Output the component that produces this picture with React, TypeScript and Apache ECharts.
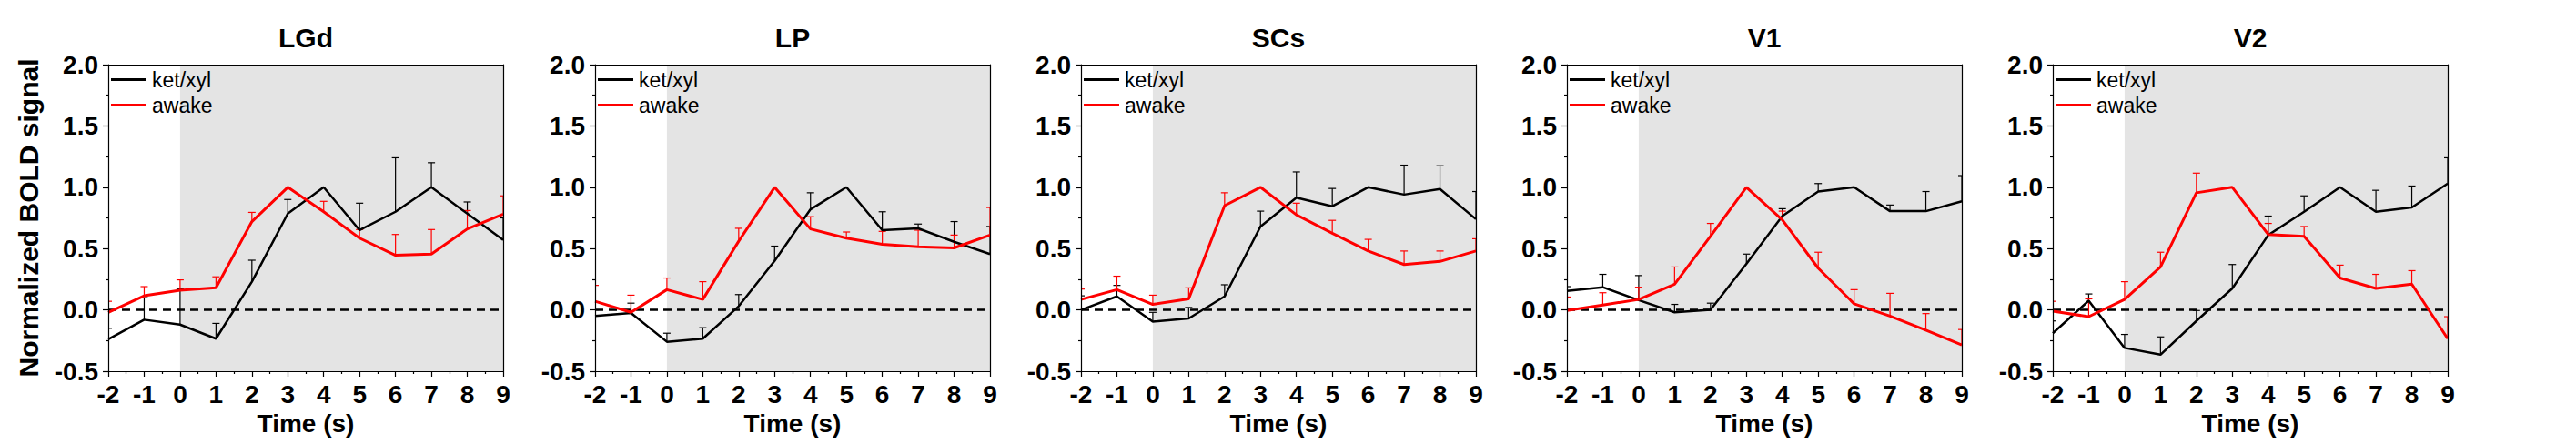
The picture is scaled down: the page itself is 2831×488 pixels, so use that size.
import React, { useEffect, useRef } from 'react';
import * as echarts from 'echarts';

// ---------------- data ----------------
const times = [-2, -1, 0, 1, 2, 3, 4, 5, 6, 7, 8, 9];
const regions = ['LGd', 'LP', 'SCs', 'V1', 'V2'];
const seriesNames = ['ket/xyl', 'awake'];

// mean curves and upper ends of the error bars (mean + SEM)
const ketLGd = [-0.24, -0.08, -0.12, -0.235, 0.23, 0.785, 1.0, 0.65, 0.8, 1.0, 0.785, 0.57];
const ketTopLGd = [-0.15, 0.1, 0.17, -0.11, 0.405, 0.9, 1.0, 0.87, 1.24, 1.2, 0.88, 0.75];
const awakeLGd = [-0.02, 0.115, 0.16, 0.18, 0.72, 1.0, 0.8, 0.585, 0.445, 0.455, 0.66, 0.78];
const awakeTopLGd = [0.07, 0.19, 0.245, 0.27, 0.795, 1.0, 0.885, 0.655, 0.615, 0.655, 0.81, 0.93];

const ketLP = [-0.05, -0.025, -0.26, -0.235, 0.03, 0.4, 0.82, 1.0, 0.65, 0.665, 0.555, 0.455];
const ketTopLP = [0.0, 0.055, -0.19, -0.145, 0.125, 0.52, 0.955, 1.0, 0.8, 0.7, 0.72, 0.68];
const awakeLP = [0.07, -0.02, 0.165, 0.085, 0.56, 1.0, 0.66, 0.585, 0.535, 0.515, 0.505, 0.61];
const awakeTopLP = [0.2, 0.12, 0.26, 0.23, 0.665, 1.0, 0.76, 0.635, 0.64, 0.65, 0.61, 0.835];

const ketSCs = [0.0, 0.11, -0.095, -0.07, 0.11, 0.68, 0.915, 0.845, 1.0, 0.94, 0.985, 0.74];
const ketTopSCs = [0.115, 0.2, -0.02, 0.02, 0.205, 0.805, 1.125, 0.99, 1.0, 1.18, 1.175, 0.965];
const awakeSCs = [0.085, 0.165, 0.045, 0.09, 0.85, 1.0, 0.775, 0.625, 0.48, 0.37, 0.395, 0.48];
const awakeTopSCs = [0.17, 0.275, 0.12, 0.18, 0.955, 1.0, 0.87, 0.73, 0.575, 0.48, 0.48, 0.58];

const ketV1 = [0.155, 0.185, 0.08, -0.02, 0.0, 0.375, 0.765, 0.965, 1.0, 0.805, 0.805, 0.885];
const ketTopV1 = [0.19, 0.29, 0.28, 0.045, 0.055, 0.455, 0.825, 1.03, 1.0, 0.855, 0.965, 1.095];
const awakeV1 = [-0.005, 0.04, 0.085, 0.21, 0.6, 1.0, 0.735, 0.34, 0.05, -0.05, -0.165, -0.285];
const awakeTopV1 = [0.105, 0.14, 0.185, 0.35, 0.705, 1.0, 0.805, 0.47, 0.165, 0.135, -0.03, -0.16];

const ketV2 = [-0.19, 0.075, -0.31, -0.365, -0.09, 0.175, 0.61, 0.8, 1.0, 0.8, 0.835, 1.03];
const ketTopV2 = [-0.09, 0.13, -0.2, -0.22, -0.005, 0.37, 0.765, 0.93, 1.0, 0.975, 1.01, 1.24];
const awakeV2 = [-0.01, -0.055, 0.085, 0.35, 0.955, 1.0, 0.615, 0.6, 0.26, 0.175, 0.21, -0.235];
const awakeTopV2 = [0.07, 0.09, 0.23, 0.47, 1.115, 1.0, 0.705, 0.68, 0.365, 0.29, 0.32, -0.055];

const ketMeans = [ketLGd, ketLP, ketSCs, ketV1, ketV2];
const ketTops = [ketTopLGd, ketTopLP, ketTopSCs, ketTopV1, ketTopV2];
const awakeMeans = [awakeLGd, awakeLP, awakeSCs, awakeV1, awakeV2];
const awakeTops = [awakeTopLGd, awakeTopLP, awakeTopSCs, awakeTopV1, awakeTopV2];

const stimStart = 0;
const stimEnd = 9;
const xTicks = { min: -2, max: 9, interval: 1 };
const yTicks = { min: -0.5, max: 2.0, interval: 0.5 };

// ---------------- layout / style ----------------
const FONT = '"Liberation Sans", Arial, Helvetica, sans-serif';
const GRID_LEFT = [119, 654, 1188, 1722, 2256];
const GRID_TOP = 71;
const GRID_W = 434;
const GRID_H = 337;
const BLACK = '#000000';
const RED = '#ff0000';
const SHADE = '#e4e4e4';

function errorRenderer(color: string) {
  return (params: any, api: any) => {
    const x = api.value(0);
    const y = api.value(1);
    const top = api.value(2);
    if (!(top > y)) return { type: 'group', children: [] };
    const p0 = api.coord([x, y]);
    const p1 = api.coord([x, top]);
    const style = { stroke: color, lineWidth: 1.2, fill: null };
    return {
      type: 'group',
      children: [
        { type: 'line', shape: { x1: p0[0], y1: p0[1], x2: p1[0], y2: p1[1] }, style },
        { type: 'line', shape: { x1: p1[0] - 4, y1: p1[1], x2: p1[0] + 4, y2: p1[1] }, style },
      ],
    };
  };
}

function buildOption() {
  const grid: any[] = [];
  const xAxis: any[] = [];
  const yAxis: any[] = [];
  const title: any[] = [];
  const legend: any[] = [];
  const series: any[] = [];

  const boldLabel = { fontSize: 28, fontWeight: 'bold', color: BLACK, fontFamily: FONT };
  const lineStyle = { color: BLACK, width: 1.2 };

  regions.forEach((region, i) => {
    grid.push({ left: GRID_LEFT[i], top: GRID_TOP, width: GRID_W, height: GRID_H, containLabel: false });
    title.push({
      text: region,
      left: GRID_LEFT[i] + GRID_W / 2,
      top: 26,
      textAlign: 'center',
      padding: 0,
      textStyle: { fontSize: 30, fontWeight: 'bold', color: BLACK, fontFamily: FONT },
    });
    legend.push({
      data: seriesNames,
      orient: 'vertical',
      left: GRID_LEFT[i] + 3,
      top: 76,
      padding: 0,
      itemGap: 5,
      itemWidth: 39,
      itemHeight: 3,
      icon: 'rect',
      selectedMode: false,
      textStyle: { fontSize: 23, color: BLACK, fontFamily: FONT, padding: [0, 0, 0, 1] },
    });
    xAxis.push({
      type: 'value',
      gridIndex: i,
      min: xTicks.min,
      max: xTicks.max,
      interval: xTicks.interval,
      z: 10,
      axisLine: { show: true, onZero: false, lineStyle },
      axisTick: { show: true, length: 6, lineStyle },
      minorTick: { show: true, splitNumber: 2, length: 3, lineStyle },
      splitLine: { show: false },
      minorSplitLine: { show: false },
      axisLabel: { ...boldLabel, margin: 11 },
      name: 'Time (s)',
      nameLocation: 'middle',
      nameGap: 40,
      nameTextStyle: { ...boldLabel },
    });
    yAxis.push({
      type: 'value',
      gridIndex: i,
      min: yTicks.min,
      max: yTicks.max,
      interval: yTicks.interval,
      z: 10,
      axisLine: { show: true, onZero: false, lineStyle },
      axisTick: { show: true, length: 6, lineStyle },
      minorTick: { show: true, splitNumber: 2, length: 3, lineStyle },
      splitLine: { show: false },
      minorSplitLine: { show: false },
      axisLabel: { ...boldLabel, margin: 11, formatter: (v: number) => v.toFixed(1) },
      name: i === 0 ? 'Normalized BOLD signal' : '',
      nameLocation: 'middle',
      nameGap: 73,
      nameTextStyle: { ...boldLabel, fontSize: 30 },
    });
  });

  // frame (top and right edges)
  regions.forEach((_, i) => {
    xAxis.push({
      type: 'value',
      gridIndex: i,
      position: 'top',
      min: xTicks.min,
      max: xTicks.max,
      z: 10,
      axisLine: { show: true, onZero: false, lineStyle },
      axisTick: { show: false },
      axisLabel: { show: false },
      splitLine: { show: false },
    });
    yAxis.push({
      type: 'value',
      gridIndex: i,
      position: 'right',
      min: yTicks.min,
      max: yTicks.max,
      z: 10,
      axisLine: { show: true, onZero: false, lineStyle },
      axisTick: { show: false },
      axisLabel: { show: false },
      splitLine: { show: false },
    });
  });

  regions.forEach((_, i) => {
    series.push({
      type: 'line',
      name: '_bg' + i,
      xAxisIndex: i,
      yAxisIndex: i,
      data: [],
      silent: true,
      z: 1,
      markArea: {
        silent: true,
        z: 1,
        itemStyle: { color: SHADE },
        data: [[{ xAxis: stimStart, yAxis: yTicks.min }, { xAxis: stimEnd, yAxis: yTicks.max }]],
      },
      markLine: {
        silent: true,
        z: 2,
        symbol: ['none', 'none'],
        label: { show: false },
        lineStyle: { color: BLACK, type: [9, 6], width: 2.5 },
        data: [{ yAxis: 0 }],
      },
    });
    series.push({
      type: 'custom',
      name: 'ket/xyl',
      xAxisIndex: i,
      yAxisIndex: i,
      z: 3,
      clip: true,
      silent: true,
      itemStyle: { color: BLACK },
      renderItem: errorRenderer(BLACK),
      encode: { x: 0, y: 1 },
      data: times.map((t, k) => [t, ketMeans[i][k], ketTops[i][k]]),
    });
    series.push({
      type: 'custom',
      name: 'awake',
      xAxisIndex: i,
      yAxisIndex: i,
      z: 3,
      clip: true,
      silent: true,
      itemStyle: { color: RED },
      renderItem: errorRenderer(RED),
      encode: { x: 0, y: 1 },
      data: times.map((t, k) => [t, awakeMeans[i][k], awakeTops[i][k]]),
    });
    series.push({
      type: 'line',
      name: 'ket/xyl',
      xAxisIndex: i,
      yAxisIndex: i,
      z: 4,
      symbol: 'none',
      color: BLACK,
      lineStyle: { color: BLACK, width: 2.5 },
      data: times.map((t, k) => [t, ketMeans[i][k]]),
    });
    series.push({
      type: 'line',
      name: 'awake',
      xAxisIndex: i,
      yAxisIndex: i,
      z: 5,
      symbol: 'none',
      color: RED,
      lineStyle: { color: RED, width: 3 },
      data: times.map((t, k) => [t, awakeMeans[i][k]]),
    });
  });

  return {
    animation: false,
    backgroundColor: '#ffffff',
    title,
    legend,
    grid,
    xAxis,
    yAxis,
    series,
  };
}

export default function App() {
  const ref = useRef<HTMLDivElement>(null);
  useEffect(() => {
    if (!ref.current) return;
    const chart = echarts.init(ref.current, undefined, { renderer: 'svg' });
    chart.setOption(buildOption() as any);
    return () => chart.dispose();
  }, []);
  return (
    <div
      ref={ref}
      style={{ position: 'absolute', left: 0, top: 0, width: 2831, height: 488, background: '#fff' }}
    />
  );
}
